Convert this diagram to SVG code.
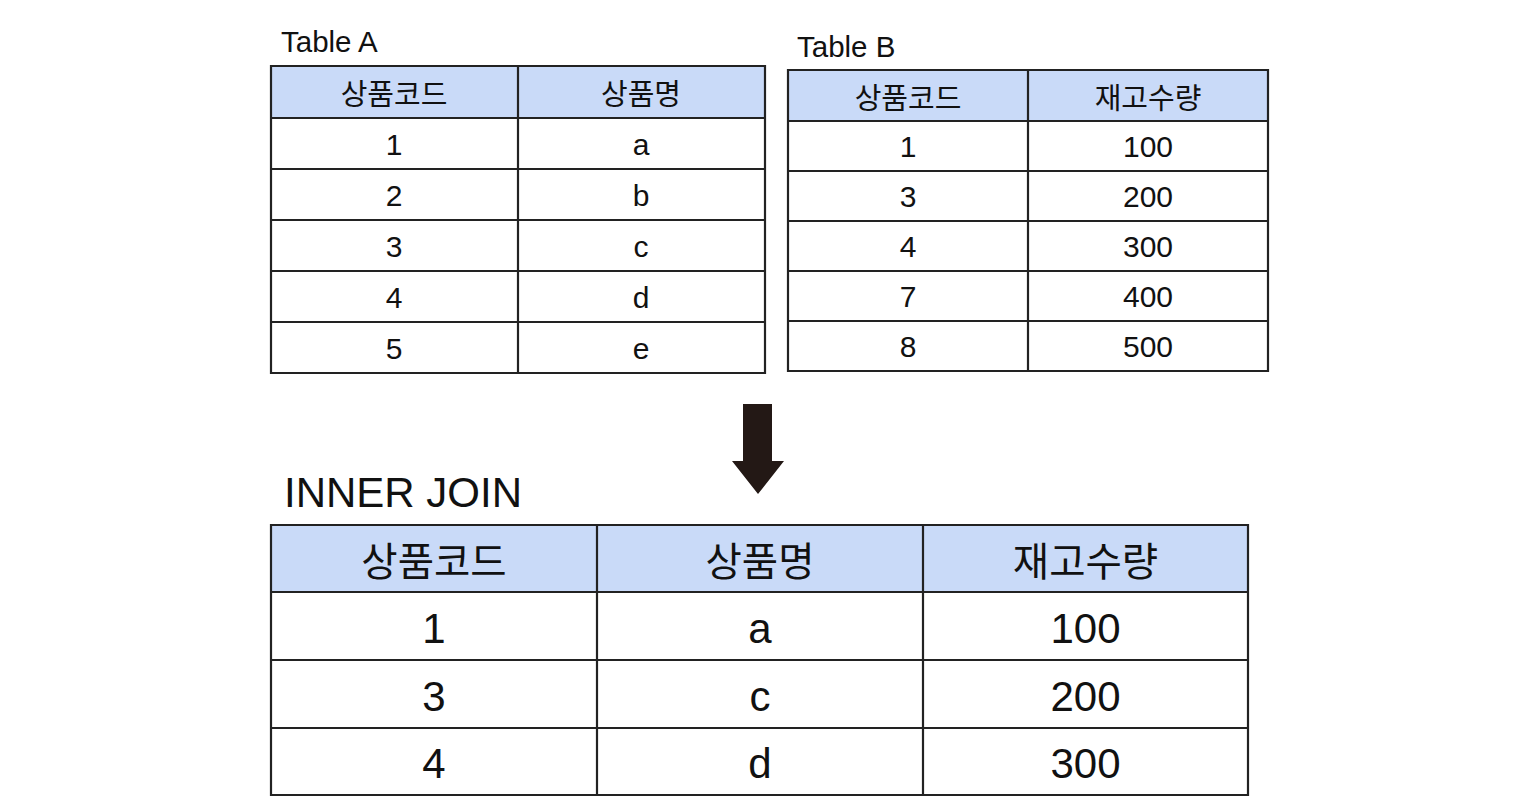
<svg xmlns="http://www.w3.org/2000/svg" width="1536" height="806" viewBox="0 0 1536 806">
  <style>
    .hdr { fill: #c9daf8; }
    .cell { fill: #ffffff; }
    .grid { stroke: #222222; stroke-width: 2.2; fill: none; }
    .t { font-family: "Liberation Sans", Arial, sans-serif; fill: #111111; text-anchor: middle; }
    .k { font-family: "Noto Sans CJK KR", "Noto Sans", sans-serif; fill: #111111; text-anchor: middle; dominant-baseline: central; }
    .title { font-family: "Liberation Sans", Arial, sans-serif; fill: #111111; }
    .s30 { font-size: 30px; }
    .s42 { font-size: 42px; }
    .k28 { font-size: 29px; }
    .k38 { font-size: 39.5px; }
  </style>
  <rect width="1536" height="806" fill="#ffffff"/>

  <g id="tableA">
    <text class="title" x="281" y="52" font-size="29.5">Table A</text>
    <rect class="hdr" x="271" y="66" width="494" height="52"/>
    <rect class="cell" x="271" y="118" width="494" height="255"/>
    <path class="grid" d="M271,66H765V373H271Z M518,66V373 M271,118H765 M271,169H765 M271,220H765 M271,271H765 M271,322H765"/>
    <text class="k k28" x="394" y="92">상품코드</text>
    <text class="k k28" x="641" y="92">상품명</text>
    <text class="t s30" x="394" y="155">1</text>
    <text class="t s30" x="641" y="155">a</text>
    <text class="t s30" x="394" y="206">2</text>
    <text class="t s30" x="641" y="206">b</text>
    <text class="t s30" x="394" y="257">3</text>
    <text class="t s30" x="641" y="257">c</text>
    <text class="t s30" x="394" y="308">4</text>
    <text class="t s30" x="641" y="308">d</text>
    <text class="t s30" x="394" y="359">5</text>
    <text class="t s30" x="641" y="359">e</text>
  </g>

  <g id="tableB">
    <text class="title" x="797" y="57" font-size="29.5">Table B</text>
    <rect class="hdr" x="788" y="70" width="480" height="51"/>
    <rect class="cell" x="788" y="121" width="480" height="250"/>
    <path class="grid" d="M788,70H1268V371H788Z M1028,70V371 M788,121H1268 M788,171H1268 M788,221H1268 M788,271H1268 M788,321H1268"/>
    <text class="k k28" x="908" y="95.5">상품코드</text>
    <text class="k k28" x="1148" y="95.5">재고수량</text>
    <text class="t s30" x="908" y="157">1</text>
    <text class="t s30" x="1148" y="157">100</text>
    <text class="t s30" x="908" y="207">3</text>
    <text class="t s30" x="1148" y="207">200</text>
    <text class="t s30" x="908" y="257">4</text>
    <text class="t s30" x="1148" y="257">300</text>
    <text class="t s30" x="908" y="307">7</text>
    <text class="t s30" x="1148" y="307">400</text>
    <text class="t s30" x="908" y="357">8</text>
    <text class="t s30" x="1148" y="357">500</text>
  </g>

  <g id="connectors">
    <path id="arrow" d="M743,404H772V461H784L758,494L732,461H743Z" fill="#231815"/>
  </g>

  <g id="innerJoin">
    <text class="title" x="284" y="507" font-size="42">INNER JOIN</text>
    <rect class="hdr" x="271" y="525" width="977" height="67"/>
    <rect class="cell" x="271" y="592" width="977" height="203"/>
    <path class="grid" d="M271,525H1248V795H271Z M597,525V795 M923,525V795 M271,592H1248 M271,660H1248 M271,728H1248"/>
    <text class="k k38" x="434" y="558.5">상품코드</text>
    <text class="k k38" x="760" y="558.5">상품명</text>
    <text class="k k38" x="1085.5" y="558.5">재고수량</text>
    <text class="t s42" x="434" y="643">1</text>
    <text class="t s42" x="760" y="643">a</text>
    <text class="t s42" x="1085.5" y="643">100</text>
    <text class="t s42" x="434" y="711">3</text>
    <text class="t s42" x="760" y="711">c</text>
    <text class="t s42" x="1085.5" y="711">200</text>
    <text class="t s42" x="434" y="778">4</text>
    <text class="t s42" x="760" y="778">d</text>
    <text class="t s42" x="1085.5" y="778">300</text>
  </g>
</svg>
